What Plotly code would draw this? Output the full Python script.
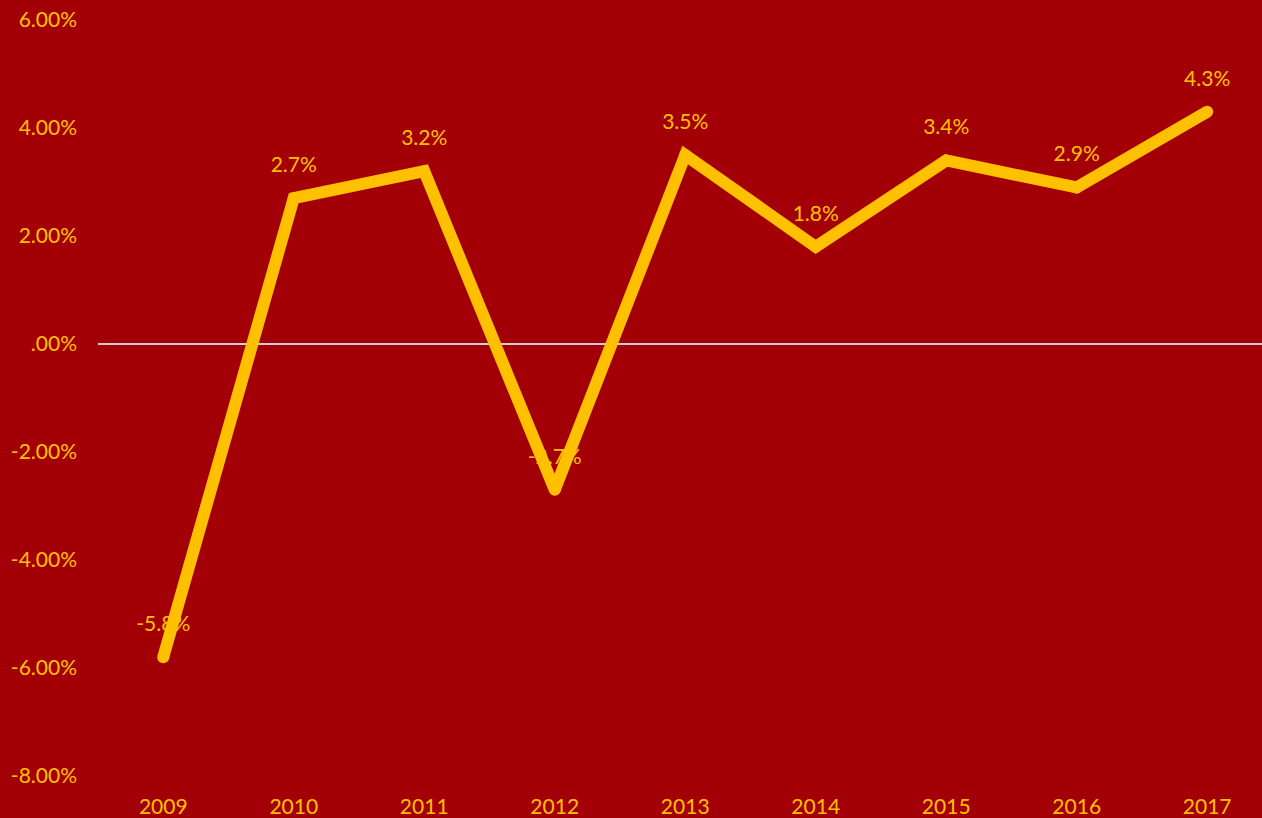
import plotly.graph_objects as go

years = ["2009", "2010", "2011", "2012", "2013", "2014", "2015", "2016", "2017"]
growth = [-5.8, 2.7, 3.2, -2.7, 3.5, 1.8, 3.4, 2.9, 4.3]
labels = ["-5.8%", "2.7%", "3.2%", "-2.7%", "3.5%", "1.8%", "3.4%", "2.9%", "4.3%"]
tick_vals = [-8, -6, -4, -2, 0, 2, 4, 6]
tick_text = ["-8.00%", "-6.00%", "-4.00%", "-2.00%", ".00%", "2.00%", "4.00%", "6.00%"]

BG = "#A20006"
GOLD = "#FFC000"
FONT = "Lato, 'Open Sans', sans-serif"

label_offset = 0.58  # data units above each point

fig = go.Figure()
fig.add_trace(go.Scatter(
    x=years, y=[v + label_offset for v in growth], mode="text",
    text=labels, textposition="middle center",
    textfont=dict(color=GOLD, size=21, family=FONT),
    hoverinfo="skip", showlegend=False,
))
fig.add_trace(go.Scatter(
    x=years, y=growth, mode="lines+markers",
    line=dict(color=GOLD, width=12),
    marker=dict(color=GOLD, size=12),
    showlegend=False,
))

fig.update_layout(
    width=1262, height=818,
    paper_bgcolor=BG, plot_bgcolor=BG,
    margin=dict(l=98, r=0, t=20, b=42),
    font=dict(family=FONT, color=GOLD, size=21),
    xaxis=dict(
        type="category", range=[-0.5, 8.42],
        showgrid=False, zeroline=False, showline=False,
        ticks="", tickfont=dict(color=GOLD, size=21, family=FONT),
        ticklabelstandoff=16,
    ),
    yaxis=dict(
        range=[-8, 6], tickvals=tick_vals, ticktext=tick_text,
        showgrid=False, zeroline=True, zerolinecolor="#CFCFCF", zerolinewidth=2,
        showline=False, ticks="",
        tickfont=dict(color=GOLD, size=21, family=FONT),
        ticklabelstandoff=20,
    ),
)

fig.write_html(
    "out.html",
    config={"displayModeBar": False},
    post_script="document.body.style.margin='0';document.body.style.background='%s';" % BG,
)
